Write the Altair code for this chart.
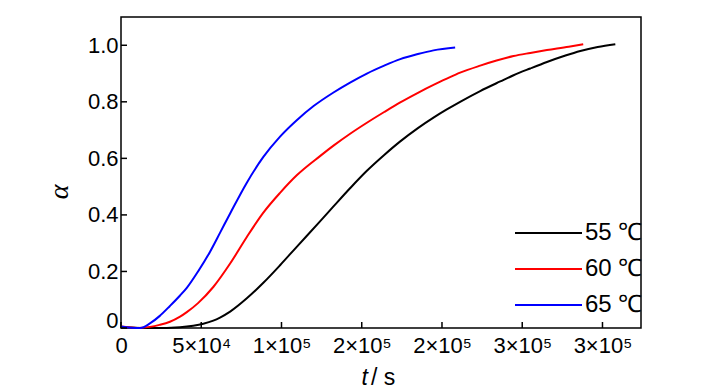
import altair as alt
import pandas as pd

# ---- data (t in units of 1000 s) ----
series = ["55 ℃", "60 ℃", "65 ℃"]
legend_text = ["55\u00a0℃", "60\u00a0℃", "65\u00a0℃"]
colors = ["#000000", "#ff0000", "#0000ff"]

t55 = [0, 20, 36.8, 45, 51.3, 57.5, 61.7, 68, 78.4, 88.7, 99.1, 109.5, 124, 132.4, 143,
       153.2, 164, 174, 185, 194.7, 203, 211.3, 223.8, 236.3, 244.6, 255, 265.4, 276,
       286.2, 297, 308]
a55 = [0.003, 0.0, 0.003, 0.008, 0.015, 0.026, 0.037, 0.058, 0.105, 0.16, 0.222, 0.287,
       0.377, 0.43, 0.496, 0.556, 0.612, 0.66, 0.707, 0.744, 0.773, 0.8, 0.838, 0.872,
       0.894, 0.918, 0.941, 0.962, 0.98, 0.994, 1.004]

t60 = [0, 10, 18, 24, 30.5, 36.8, 41, 48, 57.5, 68, 78.4, 88.7, 99.1, 109.5, 124, 132.4,
       143, 153.2, 164, 174, 185, 194.7, 203, 211.3, 223.8, 234, 244.6, 255, 265.4, 279, 288]
a60 = [0.005, 0.0, 0.004, 0.011, 0.022, 0.04, 0.056, 0.088, 0.145, 0.228, 0.322, 0.408,
       0.478, 0.54, 0.608, 0.645, 0.688, 0.726, 0.764, 0.798, 0.832, 0.86, 0.882, 0.903,
       0.928, 0.946, 0.962, 0.973, 0.983, 0.995, 1.004]

t65 = [0, 6, 12, 18, 24, 30.5, 36.8, 41, 48, 55.5, 62, 68, 78.4, 88.7, 99.1, 109.5, 120,
       132.4, 143, 153.2, 164, 174, 185, 194.7, 208.2]
a65 = [0.005, 0.001, 0.0, 0.016, 0.042, 0.078, 0.115, 0.142, 0.2, 0.27, 0.34, 0.405, 0.514,
       0.605, 0.677, 0.735, 0.785, 0.833, 0.869, 0.9, 0.928, 0.951, 0.969, 0.982, 0.992]

xtick_vals = [0, 50000, 100000, 150000, 200000, 250000, 300000]
xtick_text = ["0", "5×10⁴", "1×10⁵", "2×10⁵", "2×10⁵", "3×10⁵", "3×10⁵"]
ytick_vals = [0, 0.2, 0.4, 0.6, 0.8, 1.0]
ytick_text = ["0", "0.2", "0.4", "0.6", "0.8", "1.0"]

rows = []
for name, ts, avals in zip(series, [t55, t60, t65], [a55, a60, a65]):
    for t, a in zip(ts, avals):
        rows.append({"t": t * 1000, "alpha": a, "series": name})
df = pd.DataFrame(rows)

W, H = 520, 311
SANS = "Liberation Sans Narrow, Arial Narrow, Liberation Sans, Arial, sans-serif"

x_expr = " : ".join(f"datum.value == {v} ? '{s}'" for v, s in zip(xtick_vals, xtick_text)) + " : ''"
y_expr = " : ".join(f"abs(datum.value - {v}) < 1e-6 ? '{s}'" for v, s in zip(ytick_vals, ytick_text)) + " : ''"

xscale = alt.Scale(domain=[0, 324000], nice=False, zero=False)
yscale = alt.Scale(domain=[0, 1.1], nice=False, zero=False)
color = alt.Color("series:N", scale=alt.Scale(domain=series, range=colors), legend=None)

xaxis = alt.Axis(values=xtick_vals, labelExpr=x_expr, ticks=False, domain=False,
                 grid=False, title=None, labelFont=SANS, labelFontSize=22,
                 labelPadding=7, labelColor="black", labelFlush=False, labelOverlap=False)
yaxis = alt.Axis(values=ytick_vals, labelExpr=y_expr, ticks=False, domain=False,
                 grid=False, title=None, labelFont=SANS, labelFontSize=22,
                 labelPadding=3, labelColor="black", labelFlush=True, labelFlushOffset=4,
                 labelOverlap=False)

lines = alt.Chart(df).mark_line(strokeWidth=2, interpolate="monotone").encode(
    x=alt.X("t:Q", scale=xscale, axis=xaxis),
    y=alt.Y("alpha:Q", scale=yscale, axis=yaxis),
    color=color,
    detail="series:N",
)

xticks = alt.Chart(pd.DataFrame({"t": xtick_vals})).mark_rule(color="black", strokeWidth=1.5).encode(
    x=alt.X("t:Q", scale=xscale, axis=xaxis),
    y=alt.value(H), y2=alt.value(H - 6),
)
yticks = alt.Chart(pd.DataFrame({"alpha": ytick_vals})).mark_rule(color="black", strokeWidth=1.5).encode(
    y=alt.Y("alpha:Q", scale=yscale, axis=yaxis),
    x=alt.value(0), x2=alt.value(6),
)

title_df = pd.DataFrame({"k": [0]})
xt_t = alt.Chart(title_df).mark_text(font=SANS, fontSize=23, fontStyle="italic",
                                     align="right", baseline="alphabetic", color="black").encode(
    x=alt.value(247), y=alt.value(368), text=alt.value("t"))
xt_s = alt.Chart(title_df).mark_text(font=SANS, fontSize=23, align="left",
                                     baseline="alphabetic", color="black").encode(
    x=alt.value(250), y=alt.value(368), text=alt.value("/ s"))
yt = alt.Chart(title_df).mark_text(font="Liberation Serif, DejaVu Serif, serif", fontSize=28,
                                   fontStyle="italic", angle=270, align="center",
                                   baseline="middle", color="black").encode(
    x=alt.value(-61), y=alt.value(175), text=alt.value("α"))

# legend rows (drawn manually, bottom-right inside the frame)
leg_rows = [216, 252, 288]
legend_layers = []
for i, (name, lab) in enumerate(zip(series, legend_text)):
    d = pd.DataFrame({"series": [name], "label": [lab]})
    legend_layers.append(alt.Chart(d).mark_rule(strokeWidth=2).encode(
        x=alt.value(394), x2=alt.value(461), y=alt.value(leg_rows[i]), color=color))
    legend_layers.append(alt.Chart(d).mark_text(font=SANS, fontSize=24, align="left",
                                                baseline="middle", color="black").encode(
        x=alt.value(464), y=alt.value(leg_rows[i]), text="label:N"))

chart = alt.layer(lines, xticks, yticks, xt_t, xt_s, yt, *legend_layers).properties(
    width=W, height=H,
    padding={"left": 113, "top": 9, "right": 20, "bottom": 62},
    autosize=alt.AutoSizeParams(type="none"),
    background="white",
).configure_view(stroke="black", strokeWidth=1.5)

chart.save("out.html", embed_options={"renderer": "svg", "actions": False})
